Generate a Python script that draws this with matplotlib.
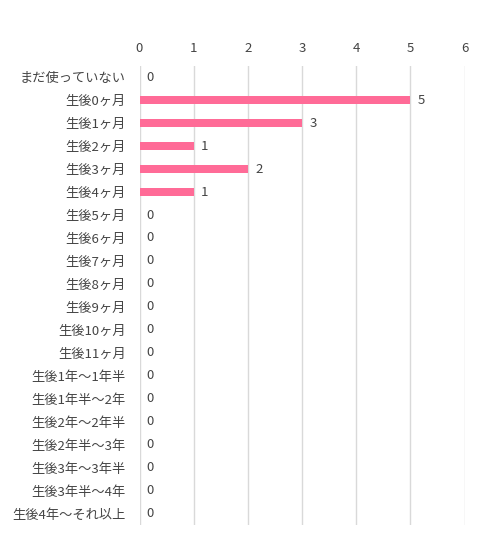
import matplotlib
matplotlib.use("Agg")
import matplotlib.pyplot as plt

plt.rcParams['font.family'] = ['Noto Sans CJK JP', 'DejaVu Sans']

categories = ["まだ使っていない", "生後0ヶ月", "生後1ヶ月", "生後2ヶ月", "生後3ヶ月",
              "生後4ヶ月", "生後5ヶ月", "生後6ヶ月", "生後7ヶ月", "生後8ヶ月",
              "生後9ヶ月", "生後10ヶ月", "生後11ヶ月", "生後1年～1年半",
              "生後1年半～2年", "生後2年～2年半", "生後2年半～3年", "生後3年～3年半",
              "生後3年半～4年", "生後4年～それ以上"]
values = [0, 5, 3, 1, 2, 1, 0, 0, 0, 0, 0, 0, 0, 0, 0, 0, 0, 0, 0, 0]
xticks = [0, 1, 2, 3, 4, 5, 6]

text_color = "#444444"
bar_color = "#ff6b97"

fig = plt.figure(figsize=(5, 5.54), dpi=100)
ax = fig.add_axes([0.279, 0.0523, 0.65, 0.829])

y = list(range(len(categories)))
ax.barh(y, values, height=0.35, color=bar_color, zorder=3)

for yi, v in zip(y, values):
    ax.annotate(str(v), (v, yi), xytext=(5.3, 0), textcoords="offset points",
                va="center", ha="left", fontsize=9.5, color=text_color)

ax.set_xlim(0, 6)
ax.set_ylim(len(categories) - 0.5, -0.5)
ax.set_xticks(xticks)
ax.set_yticks(y)
ax.set_yticklabels(categories, fontsize=9.5, color=text_color)
ax.xaxis.tick_top()
ax.tick_params(axis="x", length=0, pad=8, labelsize=9.5, labelcolor=text_color)
ax.tick_params(axis="y", length=0, pad=10)
ax.grid(axis="x", color="#d9d9d9", linewidth=1, zorder=0)
for s in ax.spines.values():
    s.set_visible(False)

fig.savefig("out.png", dpi=100)
plt.close()
